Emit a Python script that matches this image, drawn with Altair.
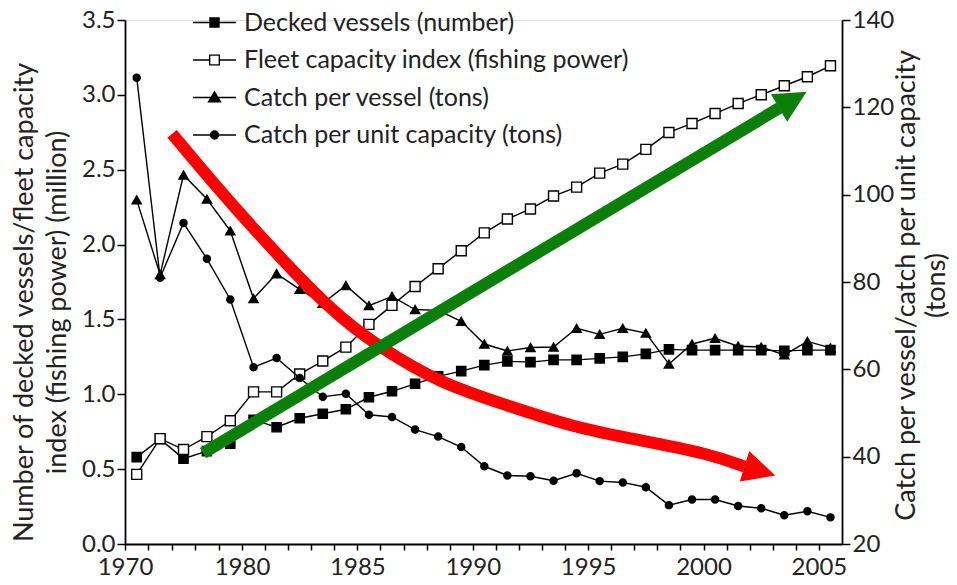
import altair as alt
import pandas as pd

# ---- data ----
# x positions: two-year bins 1970-80 plotted at their mid-years, then yearly values at mid-year
period_mid = [1971, 1973, 1975, 1977, 1979,
              1980.5, 1981.5, 1982.5, 1983.5, 1984.5, 1985.5, 1986.5, 1987.5, 1988.5, 1989.5,
              1990.5, 1991.5, 1992.5, 1993.5, 1994.5, 1995.5, 1996.5, 1997.5, 1998.5, 1999.5,
              2000.5, 2001.5, 2002.5, 2003.5, 2004.5, 2005.5]

decked_vessels = [0.58, 0.70, 0.57, 0.62, 0.67, 0.83, 0.78, 0.84, 0.87, 0.90,
                  0.98, 1.02, 1.07, 1.12, 1.155, 1.195, 1.22, 1.215, 1.23, 1.23,
                  1.24, 1.25, 1.27, 1.30, 1.295, 1.295, 1.295, 1.295, 1.29, 1.295, 1.295]

fleet_capacity = [0.465, 0.704, 0.631, 0.717, 0.823, 1.016, 1.016, 1.135, 1.222, 1.315,
                  1.467, 1.594, 1.720, 1.839, 1.959, 2.078, 2.171, 2.238, 2.324, 2.384,
                  2.477, 2.537, 2.636, 2.749, 2.809, 2.875, 2.942, 3.001, 3.061, 3.121, 3.194]

catch_per_vessel = [98.8, 81.7, 104.5, 99.0, 91.7, 76.2, 81.9, 78.3, 75.1, 79.2,
                    74.6, 76.7, 73.7, 73.5, 71.0, 65.8, 64.2, 65.0, 65.1, 69.4,
                    68.0, 69.4, 68.3, 61.2, 65.8, 67.1, 65.3, 65.1, 63.3, 66.4, 64.9]

catch_per_capacity = [126.8, 81.0, 93.5, 85.3, 76.0, 60.5, 62.6, 58.0, 53.7, 54.4,
                      49.6, 49.1, 46.2, 44.6, 42.2, 37.8, 35.7, 35.5, 34.5, 36.2,
                      34.4, 34.1, 33.0, 28.9, 30.2, 30.2, 28.7, 28.2, 26.6, 27.5, 26.1]

series_names = ["Decked vessels (number)",
                "Fleet capacity index (fishing power)",
                "Catch per vessel (tons)",
                "Catch per unit capacity (tons)"]

tick_years = [1970, 1972, 1974, 1976, 1978, 1980] + list(range(1981, 2006))
left_ticks = [0.0, 0.5, 1.0, 1.5, 2.0, 2.5, 3.0, 3.5]
right_ticks = [20, 40, 60, 80, 100, 120, 140]

# annotation arrows (in data units: year, left-axis value)
green_x = [1976.67, 2003.29]
green_y = [0.607, 2.913]
green_head_x = [2003.87]
green_head_y = [2.967]
red_x = [1974.02, 1977.52, 1980.48, 1983.94, 1985.98, 1988.58, 1991.48, 1994.34, 1997.24, 2000.15, 2001.78]
red_y = [2.740, 2.413, 2.107, 1.540, 1.313, 1.073, 0.927, 0.780, 0.693, 0.607, 0.517]
red_head_x = [2002.44]
red_head_y = [0.488]

# ---- tables ----
rows = []
for name, vals in zip(series_names, [decked_vessels, fleet_capacity, catch_per_vessel, catch_per_capacity]):
    for x, v in zip(period_mid, vals):
        rows.append({"x": x, "v": v, "series": name})
df = pd.DataFrame(rows)

FONT = "Lato"
TXT = "#222222"
W, H = 717, 524
TICK_FS = 24
TITLE_FS = 27
LEG_FS = 25

xscale = alt.Scale(domain=[1970, 1980, 2006], range=[0, 117, W], nice=False, zero=False)
xaxis = alt.Axis(values=tick_years, title=None,
                 labelExpr="(datum.value == 1970 || (datum.value >= 1980 && datum.value % 5 == 0)) ? '' + datum.value : ''",
                 grid=False, domainColor="black", domainWidth=1.8, tickColor="black", tickWidth=1.5,
                 tickSize=6, labelFont=FONT, labelFontSize=TICK_FS, labelColor=TXT, labelPadding=5,
                 labelFlush=False, labelOverlap=False)
xenc = alt.X("x:Q", scale=xscale, axis=xaxis)

yL = alt.Y("v:Q", scale=alt.Scale(domain=[0, 3.5], nice=False, zero=False),
           axis=alt.Axis(orient="left", values=left_ticks, format=".1f", grid=False,
                         domainColor="black", domainWidth=1.8, tickColor="black", tickWidth=1.5,
                         tickSize=8, labelFont=FONT, labelFontSize=TICK_FS, labelColor=TXT, labelPadding=2,
                         title=["Number of decked vessels/fleet capacity", "index (fishing power) (million)"],
                         titleFont=FONT, titleFontSize=TITLE_FS, titleFontWeight="normal", titleColor=TXT,
                         titleLineHeight=33, titleAngle=270, titleBaseline="bottom",
                         titleX=-87, titleY=282, labelFlush=False))

yR = alt.Y("v:Q", scale=alt.Scale(domain=[20, 140], nice=False, zero=False),
           axis=alt.Axis(orient="right", values=right_ticks, grid=False,
                         domainColor="black", domainWidth=1.8, tickColor="black", tickWidth=1.5,
                         tickSize=8, labelFont=FONT, labelFontSize=TICK_FS, labelColor=TXT, labelPadding=2,
                         title=["Catch per vessel/catch per unit capacity", "(tons)"],
                         titleAngle=270, titleBaseline="top", titleX=51, titleY=265,
                         titleFont=FONT, titleFontSize=TITLE_FS, titleFontWeight="normal", titleColor=TXT,
                         titleLineHeight=30, labelFlush=False))


def series_layers(name, shape, fill, size, yenc):
    base = alt.Chart(df).transform_filter(alt.datum.series == name)
    line = base.mark_line(color="black", strokeWidth=1.4).encode(x=xenc, y=yenc)
    pts = base.mark_point(shape=shape, filled=True, fill=fill, stroke="black",
                          strokeWidth=1.4, size=size, opacity=1).encode(x=xenc, y=yenc)
    return [line, pts]


left_group = alt.layer(*series_layers(series_names[0], "square", "black", 85, yL),
                       *series_layers(series_names[1], "square", "white", 100, yL))
right_group = alt.layer(*series_layers(series_names[2], "triangle-up", "black", 85, yR),
                        *series_layers(series_names[3], "circle", "black", 50, yR))

yA = alt.Y("v:Q", scale=alt.Scale(domain=[0, 3.5], nice=False, zero=False), axis=None)
head_path = "M1,0L-1,-1L-1,1Z"

green_df = pd.DataFrame({"x": green_x, "v": green_y})
green_head_df = pd.DataFrame({"x": green_head_x, "v": green_head_y})
red_df = pd.DataFrame({"x": red_x, "v": red_y, "o": list(range(len(red_x)))})
red_head_df = pd.DataFrame({"x": red_head_x, "v": red_head_y})

green_line = alt.Chart(green_df).mark_line(color="#0a800a", strokeWidth=12, strokeCap="butt").encode(x=xenc, y=yA)
green_head = alt.Chart(green_head_df).mark_point(shape=head_path, filled=True, fill="#0a800a",
                                                 strokeWidth=0, size=1024, angle=329.5, opacity=1).encode(x=xenc, y=yA)
red_line = alt.Chart(red_df).mark_line(color="#ff0000", strokeWidth=12, strokeCap="butt",
                                       interpolate="basis").encode(x=xenc, y=yA, order="o:Q")
red_head = alt.Chart(red_head_df).mark_point(shape=head_path, filled=True, fill="#ff0000",
                                             strokeWidth=0, size=1024, angle=17, opacity=1).encode(x=xenc, y=yA)
arrow_group = alt.layer(red_line, red_head, green_line, green_head)

legend_shapes = [
    "M-2,0H2M-0.42,-0.42H0.42V0.42H-0.42Z",
    "M-2,0H-0.45M0.45,0H2M-0.45,-0.45H0.45V0.45H-0.45Z",
    "M-2,0H2M0,-0.52L0.55,0.4L-0.55,0.4Z",
    "M-2,0H2M-0.37,0A0.37,0.37 0 1,0 0.37,0A0.37,0.37 0 1,0 -0.37,0Z",
]
legend_fills = ["black", "white", "black", "black"]
legend_strokes = ["black", "black", "black", "black"]

leg = alt.Legend(orient="none", legendX=77, legendY=-10, title=None, labelFont=FONT,
                 labelFontSize=LEG_FS, labelColor=TXT, symbolSize=462, symbolStrokeWidth=1.4,
                 symbolOpacity=1, rowPadding=11.5, labelOffset=17, labelLimit=0)
legend_layer = alt.Chart(df).transform_filter("false").mark_point(filled=True).encode(
    shape=alt.Shape("series:N", scale=alt.Scale(domain=series_names, range=legend_shapes), legend=leg),
    fill=alt.Fill("series:N", scale=alt.Scale(domain=series_names, range=legend_fills), legend=leg),
    stroke=alt.Stroke("series:N", scale=alt.Scale(domain=series_names, range=legend_strokes), legend=leg),
)

chart = alt.layer(left_group, right_group, arrow_group, legend_layer).resolve_scale(
    y="independent"
).properties(
    width=W, height=H,
    autosize=alt.AutoSizeParams(type="none"),
    padding={"left": 117, "top": 12, "right": 107, "bottom": 37},
    background="white",
).configure_view(stroke=None).configure(font=FONT)

chart.save("out.html", embed_options={"renderer": "svg", "actions": False})
